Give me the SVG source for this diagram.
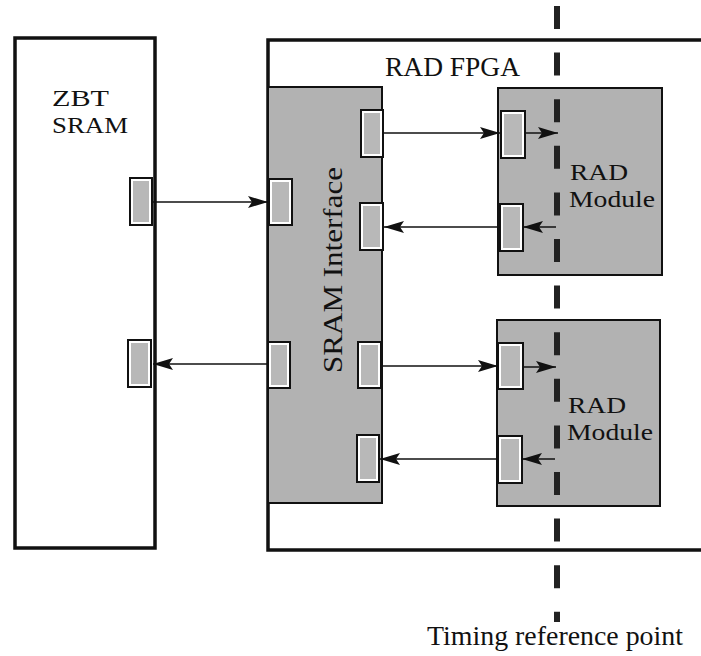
<svg xmlns="http://www.w3.org/2000/svg" width="701" height="656" viewBox="0 0 701 656">
<style>
.lbl{font-family:"Liberation Serif","Times New Roman",serif;font-size:27px;fill:#111}
.two{font-size:24px}
.box{fill:#fff;stroke:#111;stroke-width:3.5}
.shade{fill:#b2b2b2;stroke:#111;stroke-width:2}
.port{fill:#fff;stroke:#111;stroke-width:2}
.portin{fill:#b8b8b8;stroke:none}
.wire{stroke:#111;stroke-width:1.6;fill:none}
.ref{stroke:#222;stroke-width:6;stroke-dasharray:23 23.6;fill:none}
</style>
<defs>
<marker id="ah" markerUnits="userSpaceOnUse" markerWidth="22" markerHeight="14" refX="20" refY="7" orient="auto">
<path d="M0,1 L20,7 L0,13 L4,7 Z" fill="#111"/>
</marker>
</defs>
<rect width="701" height="656" fill="#fff"/>

<g id="zbt-sram">
<rect class="box" x="15" y="38" width="140" height="510"/>
<text class="lbl two" x="52" y="106" textLength="57" lengthAdjust="spacingAndGlyphs">ZBT</text>
<text class="lbl two" x="52" y="133" textLength="76" lengthAdjust="spacingAndGlyphs">SRAM</text>
<rect class="port" x="130" y="178" width="22" height="47"/>
<rect class="portin" x="133" y="181" width="16" height="41"/>
<rect class="port" x="128" y="340" width="23" height="47"/>
<rect class="portin" x="131" y="343" width="17" height="41"/>
</g>

<g id="rad-fpga">
<rect class="box" x="268" y="40" width="445" height="510"/>
<text class="lbl" x="385" y="76" textLength="135" lengthAdjust="spacingAndGlyphs">RAD FPGA</text>
</g>

<g id="sram-interface">
<rect class="shade" x="268" y="87" width="114" height="416"/>
<text class="lbl" transform="translate(342,373) rotate(-90)" x="0" y="0" font-size="29" textLength="206" lengthAdjust="spacingAndGlyphs">SRAM Interface</text>
<rect class="port" x="269" y="179" width="23" height="46"/>
<rect class="portin" x="272" y="182" width="17" height="40"/>
<rect class="port" x="361" y="110" width="22" height="47"/>
<rect class="portin" x="364" y="113" width="16" height="41"/>
<rect class="port" x="360" y="203" width="23" height="47"/>
<rect class="portin" x="363" y="206" width="17" height="41"/>
<rect class="port" x="268" y="342" width="22" height="46"/>
<rect class="portin" x="271" y="345" width="16" height="40"/>
<rect class="port" x="358" y="342" width="23" height="46"/>
<rect class="portin" x="361" y="345" width="17" height="40"/>
<rect class="port" x="357" y="435" width="22" height="47"/>
<rect class="portin" x="360" y="438" width="16" height="41"/>
</g>

<g id="rad-module-1">
<rect class="shade" x="498" y="88" width="164" height="187"/>
<text class="lbl two" x="570" y="180" textLength="58" lengthAdjust="spacingAndGlyphs">RAD</text>
<text class="lbl two" x="569" y="207" textLength="86" lengthAdjust="spacingAndGlyphs">Module</text>
<rect class="port" x="501" y="111" width="24" height="47"/>
<rect class="portin" x="504" y="114" width="18" height="41"/>
<rect class="port" x="500" y="204" width="23" height="47"/>
<rect class="portin" x="503" y="207" width="17" height="41"/>
</g>

<g id="rad-module-2">
<rect class="shade" x="497" y="320" width="163" height="186"/>
<text class="lbl two" x="568" y="413" textLength="58" lengthAdjust="spacingAndGlyphs">RAD</text>
<text class="lbl two" x="567" y="440" textLength="86" lengthAdjust="spacingAndGlyphs">Module</text>
<rect class="port" x="498" y="343" width="25" height="46"/>
<rect class="portin" x="501" y="346" width="19" height="40"/>
<rect class="port" x="498" y="436" width="24" height="47"/>
<rect class="portin" x="501" y="439" width="18" height="41"/>
</g>

<g id="connectors">
<line class="wire" x1="153" y1="202" x2="268" y2="202" marker-end="url(#ah)"/>
<line class="wire" x1="267" y1="364" x2="153" y2="364" marker-end="url(#ah)"/>
<line class="wire" x1="383" y1="133" x2="500" y2="133" marker-end="url(#ah)"/>
<line class="wire" x1="500" y1="227" x2="384" y2="227" marker-end="url(#ah)"/>
<line class="wire" x1="381" y1="366" x2="498" y2="366" marker-end="url(#ah)"/>
<line class="wire" x1="498" y1="459" x2="380" y2="459" marker-end="url(#ah)"/>
<line class="wire" x1="525" y1="133" x2="558" y2="133" marker-end="url(#ah)"/>
<line class="wire" x1="556" y1="227" x2="523" y2="227" marker-end="url(#ah)"/>
<line class="wire" x1="523" y1="367" x2="556" y2="367" marker-end="url(#ah)"/>
<line class="wire" x1="555" y1="459" x2="522" y2="459" marker-end="url(#ah)"/>
</g>

<g id="timing-reference">
<line class="ref" x1="557" y1="6" x2="557" y2="622"/>
<text class="lbl" x="427" y="645" textLength="256" lengthAdjust="spacingAndGlyphs">Timing reference point</text>
</g>
</svg>
